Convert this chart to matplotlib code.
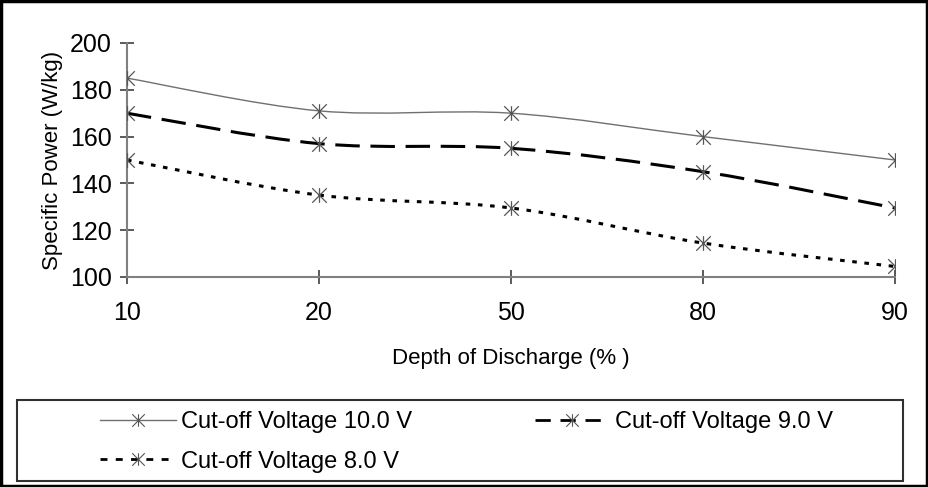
import numpy as np
import matplotlib
matplotlib.use("Agg")
import matplotlib.pyplot as plt
from matplotlib.path import Path
from matplotlib.patches import PathPatch, Rectangle
from matplotlib.lines import Line2D

plt.rcParams['font.family'] = ['Liberation Sans', 'DejaVu Sans']

# Profundidad de descarga (categorias) y potencia especifica por voltaje de corte
depth_labels = ['10', '20', '50', '80', '90']
power_10v = [185, 171, 170, 160, 150]
power_9v = [170, 157, 155, 145, 129.5]
power_8v = [150, 135, 129.5, 114.5, 104.5]

series_labels = ['Cut-off Voltage 10.0 V', 'Cut-off Voltage 9.0 V', 'Cut-off Voltage 8.0 V']


def smooth_path(xs, ys):
    # curva suavizada tipo Excel (Bezier con tension 1/6)
    p = np.column_stack([xs, ys]).astype(float)
    pp = np.vstack([p[0], p, p[-1]])
    verts = [p[0]]
    codes = [Path.MOVETO]
    for i in range(len(p) - 1):
        p0, p1, p2, p3 = pp[i], pp[i + 1], pp[i + 2], pp[i + 3]
        c1 = p1 + (p2 - p0) / 6.0
        c2 = p2 - (p3 - p1) / 6.0
        verts += [c1, c2, p2]
        codes += [Path.CURVE4] * 3
    return Path(verts, codes)


# marcador estrella: aspa con barra vertical
star = Path([(-1, -1), (1, 1), (-1, 1), (1, -1), (0, -1), (0, 1)],
            [Path.MOVETO, Path.LINETO, Path.MOVETO, Path.LINETO, Path.MOVETO, Path.LINETO])

fig = plt.figure(figsize=(9.29, 4.87), dpi=100)
ax = fig.add_axes([127 / 929, 1 - 277 / 487, (895 - 127) / 929, (277 - 43) / 487])

x = np.arange(len(depth_labels))
estilos = [
    dict(color='#707070', lw=1.0, ls='-'),
    dict(color='black', lw=2.2, ls=(0, (8, 3.5))),
    dict(color='black', lw=2.2, ls=(0, (1.5, 2.5))),
]
datos = [power_10v, power_9v, power_8v]

for ys, st in zip(datos, estilos):
    patch = PathPatch(smooth_path(x, ys), fill=False, edgecolor=st['color'],
                      lw=st['lw'], linestyle=st['ls'], capstyle='butt', zorder=2)
    ax.add_patch(patch)
    ax.plot(x, ys, ls='none', marker=star, ms=10.5, mew=0.9, color='#555555', zorder=3)

ax.set_xlim(0, len(depth_labels) - 1)
ax.set_ylim(100, 200)
ax.set_xticks(x)
ax.set_xticklabels(depth_labels)
ax.set_yticks(np.arange(100, 201, 20))
ax.tick_params(axis='both', direction='inout', length=10, width=1.2, color='#404040',
               labelsize=18, pad=6)
ax.tick_params(axis='x', pad=12)
for s in ['top', 'right']:
    ax.spines[s].set_visible(False)
for s in ['left', 'bottom']:
    ax.spines[s].set_color('#808080')
    ax.spines[s].set_linewidth(1.5)

ax.set_xlabel('Depth of Discharge (% )', fontsize=16, labelpad=17)
ax.set_ylabel('Specific Power (W/kg)', fontsize=16, labelpad=5)

# Leyenda
leg_ls = ['-', (0, (5.5, 3.5)), (0, (2.5, 3))]
handles = [Line2D([], [], marker=star, ms=9, mew=0.8, mec='#555555', color=st['color'],
                  lw=st['lw'] if i == 0 else 2.0, ls=leg_ls[i])
           for i, st in enumerate(estilos)]
order = [0, 2, 1]
leg = fig.legend([handles[i] for i in order], [series_labels[i] for i in order],
                 loc='upper left', bbox_to_anchor=(100 / 929, 1 - 411 / 487), ncol=2,
                 frameon=False, fontsize=17, handlelength=3.2, handletextpad=0.22,
                 columnspacing=5.2, labelspacing=0.75, borderpad=0, borderaxespad=0)

fig.patches.append(Rectangle((17 / 929, 1 - 481 / 487), (903 - 17) / 929, (481 - 400) / 487,
                             transform=fig.transFigure, fill=False, edgecolor='#303030', lw=1.5))
fig.patches.append(Rectangle((0.001, 0.002), 0.997, 0.995, transform=fig.transFigure,
                             fill=False, edgecolor='black', lw=2.5))

fig.savefig('out.png', dpi=100)
